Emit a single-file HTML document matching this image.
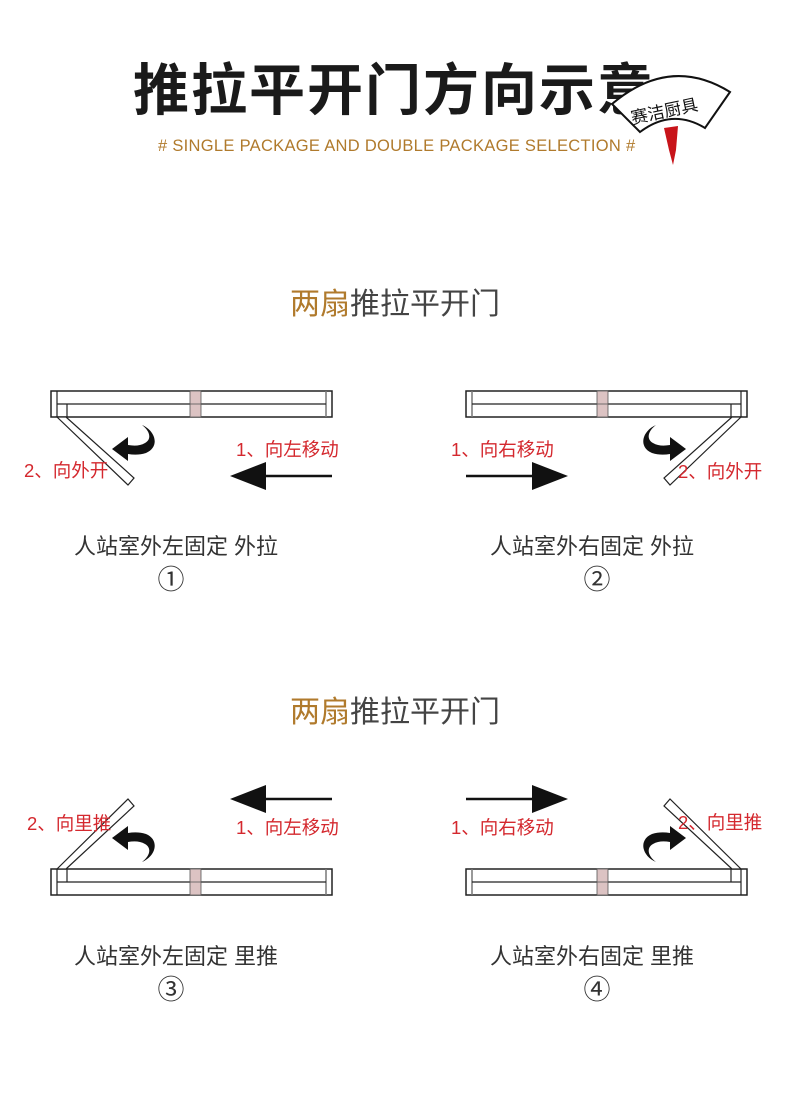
<!DOCTYPE html>
<html><head><meta charset="utf-8"><style>
body{margin:0;background:#fff;}
svg text{font-family:"Liberation Sans","Noto Sans CJK SC",sans-serif;}
</style></head><body>
<svg width="790" height="1102" viewBox="0 0 790 1102" xmlns="http://www.w3.org/2000/svg">
<defs>
<g id="frame">
  <rect x="51" y="391" width="281" height="26" fill="#fff" stroke="#222" stroke-width="1.5"/>
  <line x1="57" y1="391" x2="57" y2="417" stroke="#222" stroke-width="1.2"/>
  <line x1="326" y1="391" x2="326" y2="417" stroke="#777" stroke-width="1.5"/>
  <line x1="57" y1="404" x2="326" y2="404" stroke="#222" stroke-width="1.2"/>
  <rect x="190" y="391" width="11" height="26" fill="#dcc3c3" stroke="#555" stroke-width="0.8"/>
  <line x1="190" y1="404" x2="201" y2="404" stroke="#555" stroke-width="0.8"/>
</g>
<g id="curl">
  <path d="M0,0 C14,6 18,22 4,28 C-2,30 -8,30 -14,29 L-14,36 L-30,24 L-14,12 L-14,20 C-8,21 -2,21 3,18 C10,14 8,6 0,0 Z" fill="#111"/>
</g>
</defs>

<!-- header -->
<text x="133" y="110" font-size="56" font-weight="bold" fill="#1a1a1a" letter-spacing="2">推拉平开门方向示意</text>
<text x="158" y="151" font-size="16.5" fill="#b07a2c" letter-spacing="0.3">#  SINGLE PACKAGE AND DOUBLE PACKAGE SELECTION  #</text>
<!-- logo -->
<path d="M612,104 Q670,55 730,92 L705,128 Q672,108 640,132 Z" fill="#fff" stroke="#111" stroke-width="2"/>
<text x="630" y="118" font-size="17" fill="#111" transform="rotate(-12 660 110)">赛洁厨具</text>
<path d="M664,128 L678,126 L676,150 L673,165 L669,150 Z" fill="#c8141a"/>

<!-- section 1 -->
<text x="290" y="314" font-size="30"><tspan fill="#b07a2c">两扇</tspan><tspan fill="#444">推拉平开门</tspan></text>

<!-- diagram 1 -->
<use href="#frame"/>
<line x1="67" y1="404" x2="67" y2="417" stroke="#222" stroke-width="1.2"/>
<polygon points="57,417 66,417 134,478 128,485" fill="#fff" stroke="#222" stroke-width="1.2"/>
<g transform="translate(142,425)"><use href="#curl"/></g>
<text x="24" y="477" font-size="18.5" fill="#d4282e">2、向外开</text>
<text x="236" y="456" font-size="18.5" fill="#d4282e">1、向左移动</text>
<line x1="260" y1="476" x2="332" y2="476" stroke="#111" stroke-width="2.5"/>
<polygon points="230,476 266,462 266,490" fill="#111"/>
<text x="176" y="554" font-size="22" fill="#333" text-anchor="middle">人站室外左固定 外拉</text>
<text x="171" y="589" font-size="27" fill="#333" text-anchor="middle">①</text>

<!-- diagram 2 (mirror) -->
<g transform="translate(798,0) scale(-1,1)">
<use href="#frame"/>
<line x1="67" y1="404" x2="67" y2="417" stroke="#222" stroke-width="1.2"/>
<polygon points="57,417 66,417 134,478 128,485" fill="#fff" stroke="#222" stroke-width="1.2"/>
<g transform="translate(142,425)"><use href="#curl"/></g>
<line x1="260" y1="476" x2="332" y2="476" stroke="#111" stroke-width="2.5"/>
<polygon points="230,476 266,462 266,490" fill="#111"/>
</g>
<text x="451" y="456" font-size="18.5" fill="#d4282e">1、向右移动</text>
<text x="678" y="478" font-size="18.5" fill="#d4282e">2、向外开</text>
<text x="592" y="554" font-size="22" fill="#333" text-anchor="middle">人站室外右固定 外拉</text>
<text x="597" y="589" font-size="27" fill="#333" text-anchor="middle">②</text>

<!-- section 2 -->
<text x="290" y="722" font-size="30"><tspan fill="#b07a2c">两扇</tspan><tspan fill="#444">推拉平开门</tspan></text>

<!-- diagram 3 -->
<g transform="translate(0,478)"><use href="#frame"/></g>
<line x1="67" y1="869" x2="67" y2="882" stroke="#222" stroke-width="1.2"/>
<polygon points="57,869 66,869 134,806 128,799" fill="#fff" stroke="#222" stroke-width="1.2"/>
<g transform="translate(142,862) scale(1,-1)"><use href="#curl"/></g>
<text x="27" y="830" font-size="18.5" fill="#d4282e">2、向里推</text>
<text x="236" y="834" font-size="18.5" fill="#d4282e">1、向左移动</text>
<line x1="260" y1="799" x2="332" y2="799" stroke="#111" stroke-width="2.5"/>
<polygon points="230,799 266,785 266,813" fill="#111"/>
<text x="176" y="964" font-size="22" fill="#333" text-anchor="middle">人站室外左固定 里推</text>
<text x="171" y="999" font-size="27" fill="#333" text-anchor="middle">③</text>

<!-- diagram 4 -->
<g transform="translate(798,0) scale(-1,1)">
<g transform="translate(0,478)"><use href="#frame"/></g>
<line x1="67" y1="869" x2="67" y2="882" stroke="#222" stroke-width="1.2"/>
<polygon points="57,869 66,869 134,806 128,799" fill="#fff" stroke="#222" stroke-width="1.2"/>
<g transform="translate(142,862) scale(1,-1)"><use href="#curl"/></g>
<line x1="260" y1="799" x2="332" y2="799" stroke="#111" stroke-width="2.5"/>
<polygon points="230,799 266,785 266,813" fill="#111"/>
</g>
<text x="451" y="834" font-size="18.5" fill="#d4282e">1、向右移动</text>
<text x="678" y="829" font-size="18.5" fill="#d4282e">2、向里推</text>
<text x="592" y="964" font-size="22" fill="#333" text-anchor="middle">人站室外右固定 里推</text>
<text x="597" y="999" font-size="27" fill="#333" text-anchor="middle">④</text>
</svg>
</body></html>
